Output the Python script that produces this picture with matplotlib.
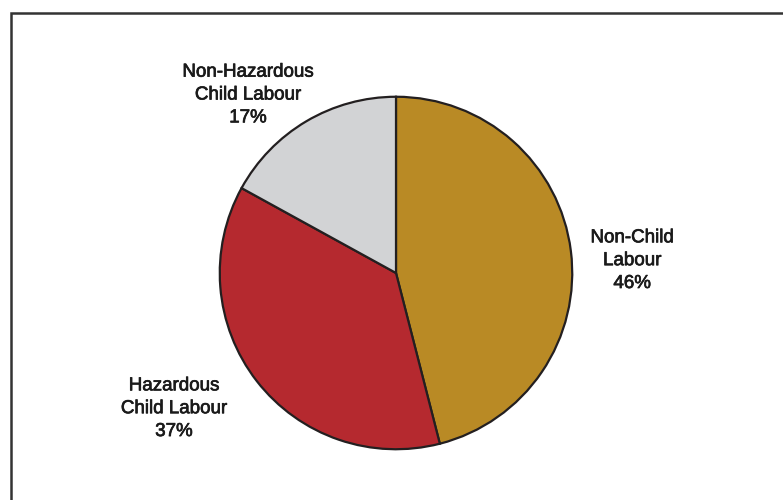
import numpy as np
import matplotlib.pyplot as plt
import matplotlib.patheffects as pe
from matplotlib.patches import Rectangle

# data
labels = ["Non-Child\nLabour", "Hazardous\nChild Labour", "Non-Hazardous\nChild Labour"]
shares = [46, 37, 17]
colors = ["#B98A25", "#B5292F", "#D2D3D5"]

# label anchor points (pie radius = 1)
label_pos = [(1.34, 0.07), (-1.26, -0.77), (-0.84, 1.01)]

plt.rcParams['font.family'] = ['Liberation Sans', 'DejaVu Sans']

fig = plt.figure(figsize=(7.83, 5), dpi=100)
ax = fig.add_axes([(396 - 178) / 783, (500 - 273 - 178) / 500, 356 / 783, 356 / 500])

wedges, _ = ax.pie(shares, colors=colors, startangle=90, counterclock=False,
                   radius=1, wedgeprops=dict(edgecolor="#231F20", linewidth=1.6))
ax.set_xlim(-1.01, 1.01)
ax.set_ylim(-1.01, 1.01)
ax.axis('off')

# slight stroke to get the medium weight of the original lettering
heavier = [pe.withStroke(linewidth=0.5, foreground="#1A1A1A")]
for lab, val, (x, y) in zip(labels, shares, label_pos):
    ax.text(x, y, f"{lab}\n{val}%", ha='center', va='center', fontsize=13.5,
            color="#1A1A1A", linespacing=1.45, clip_on=False, path_effects=heavier)

# frame round the chart (open at right and bottom)
fig.add_artist(Rectangle((11 / 783, -0.2), 1.2, (500 - 13) / 500 + 0.2,
                         transform=fig.transFigure, fill=False,
                         edgecolor="#333333", linewidth=1.8))

fig.savefig("out.png", dpi=100)
